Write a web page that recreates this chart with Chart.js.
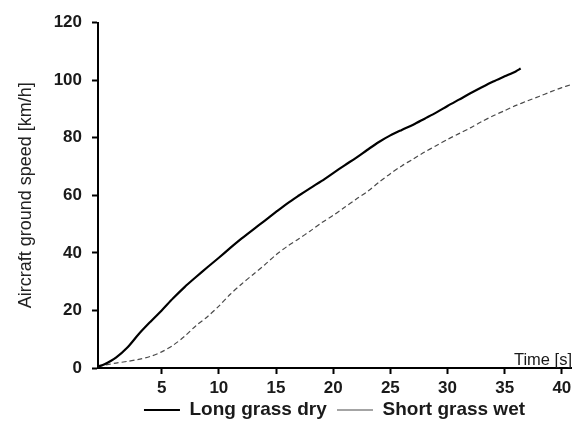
<!DOCTYPE html>
<html>
<head>
<meta charset="utf-8">
<script src="https://cdn.jsdelivr.net/npm/chart.js@4.4.1/dist/chart.umd.min.js"></script>
<style>
  html, body { margin: 0; padding: 0; background: #fff; }
  #wrap { width: 572px; height: 423px; position: relative; }
</style>
</head>
<body>
<div id="wrap"><canvas id="c" width="572" height="423"></canvas></div>
<script>
// ---- data ----
const timeLong  = [-0.57, 0, 1, 2, 3, 4, 5, 6, 7, 8, 9, 10, 11, 12, 13, 14, 15, 16, 17, 18, 19, 20, 21, 22, 23, 24, 25, 26, 27, 28, 29, 30, 31, 32, 33, 34, 35, 36, 36.4];
const speedLong = [0.5, 1.3, 3.6, 7.1, 11.8, 16.0, 20.0, 24.2, 28.1, 31.6, 35.0, 38.3, 41.7, 45.0, 48.1, 51.1, 54.2, 57.2, 59.9, 62.5, 65.0, 67.7, 70.4, 73.0, 75.8, 78.5, 80.8, 82.7, 84.5, 86.6, 88.7, 91.0, 93.2, 95.4, 97.5, 99.5, 101.3, 103.1, 104.0];

const timeShort  = [-0.57, 0, 1, 2, 3, 4, 5, 6, 7, 8, 9, 10, 11, 12, 13, 14, 15, 16, 17, 18, 19, 20, 21, 22, 23, 24, 25, 26, 27, 28, 29, 30, 31, 32, 33, 34, 35, 36, 37, 38, 39, 40, 40.8];
const speedShort = [0.5, 1.0, 1.7, 2.3, 3.0, 4.0, 5.6, 7.9, 11.0, 14.7, 17.8, 21.5, 25.6, 29.2, 32.5, 35.8, 39.3, 42.3, 44.9, 47.6, 50.5, 53.0, 55.8, 58.6, 61.3, 64.5, 67.5, 70.2, 72.6, 75.0, 77.2, 79.4, 81.4, 83.4, 85.6, 87.6, 89.4, 91.2, 92.8, 94.3, 95.9, 97.4, 98.4];

const xTickValues = [5, 10, 15, 20, 25, 30, 35, 40];
const yTickValues = [0, 20, 40, 60, 80, 100, 120];
const seriesNames = ['Long grass dry', 'Short grass wet'];
const yTitle = 'Aircraft ground speed [km/h]';
const xTitle = 'Time [s]';

const FONT = "'Liberation Sans', Arial, sans-serif";
const TXT = '#1a1a1a';

const toPoints = (xs, ys) => xs.map((x, i) => ({ x: x, y: ys[i] }));

const timeLabel = {
  id: 'timeLabel',
  afterDraw(chart) {
    const ctx = chart.ctx;
    const a = chart.chartArea;
    ctx.save();
    ctx.font = "16.5px " + FONT;
    ctx.fillStyle = TXT;
    ctx.textAlign = 'right';
    ctx.textBaseline = 'alphabetic';
    ctx.fillText(xTitle, a.right + 1, a.bottom - 3);
    ctx.restore();
  }
};

new Chart(document.getElementById('c'), {
  type: 'line',
  data: {
    datasets: [
      {
        label: seriesNames[0],
        data: toPoints(timeLong, speedLong),
        borderColor: '#000',
        backgroundColor: '#000',
        borderWidth: 2.2,
        pointRadius: 0,
        tension: 0.3,
        fill: false
      },
      {
        label: seriesNames[1],
        data: toPoints(timeShort, speedShort),
        borderColor: '#4a4a4a',
        backgroundColor: '#4a4a4a',
        borderWidth: 1.2,
        borderDash: [5, 3],
        pointRadius: 0,
        tension: 0.3,
        fill: false
      }
    ]
  },
  options: {
    responsive: false,
    animation: false,
    layout: { padding: { top: 22.5, right: 1, left: 0, bottom: -6.5 } },
    plugins: {
      tooltip: { enabled: false },
      legend: {
        position: 'bottom',
        fullSize: false,
        labels: {
          usePointStyle: true,
          pointStyle: 'line',
          pointStyleWidth: 36,
          padding: 5,
          color: TXT,
          font: { family: FONT, size: 19, weight: 'bold' },
          generateLabels: (chart) => {
            const items = Chart.defaults.plugins.legend.labels.generateLabels(chart);
            items.forEach((it, i) => { if (i < items.length - 1) it.text = it.text + ' '; });
            return items;
          }
        }
      }
    },
    scales: {
      x: {
        type: 'linear',
        min: -0.57,
        max: 40.8,
        afterBuildTicks: (s) => { s.ticks = xTickValues.map(v => ({ value: v })); },
        afterFit: (s) => { s.height = 27.5; s.paddingLeft = 0; s.paddingRight = 0; },
        grid: { display: true, drawOnChartArea: false, drawTicks: true, tickLength: 6, tickWidth: 2, tickColor: '#000' },
        border: { display: true, color: '#000', width: 2 },
        ticks: { color: TXT, padding: 4, maxRotation: 0, font: { family: FONT, size: 17, weight: 'bold' } }
      },
      y: {
        type: 'linear',
        min: 0,
        max: 120,
        afterBuildTicks: (s) => { s.ticks = yTickValues.map(v => ({ value: v })); },
        afterFit: (s) => { s.width = 98; s.paddingTop = 0; s.paddingBottom = 0; },
        grid: { display: true, drawOnChartArea: false, drawTicks: true, tickLength: 6, tickWidth: 2, tickColor: '#000' },
        border: { display: true, color: '#000', width: 2 },
        ticks: { color: TXT, padding: 10, font: { family: FONT, size: 17, weight: 'bold' } },
        title: {
          display: true,
          text: yTitle,
          color: '#222',
          padding: { top: 15, bottom: 0 },
          font: { family: FONT, size: 18, weight: 'normal' }
        }
      }
    }
  },
  plugins: [timeLabel]
});
</script>
</body>
</html>
